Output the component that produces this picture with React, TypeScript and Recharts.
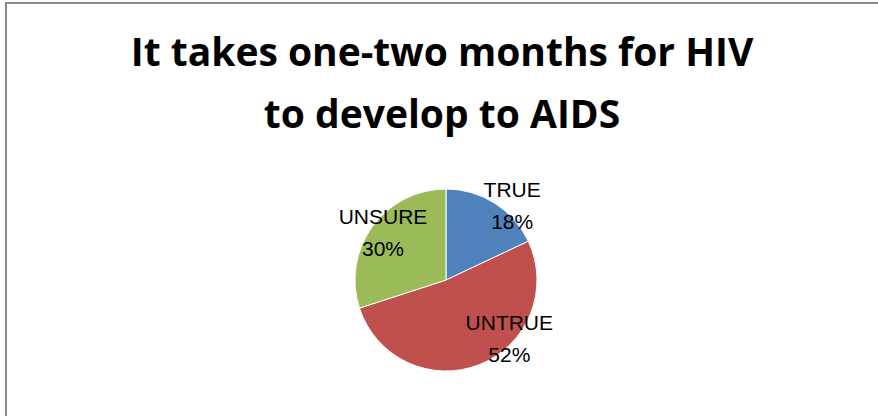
import React from 'react';
import { PieChart, Pie, Cell } from 'recharts';

// answers to the statement, percent of respondents
const answers = ['TRUE', 'UNTRUE', 'UNSURE'];
const shares = [18, 52, 30];
const colors = ['#4F81BD', '#C0504D', '#9BBB59'];

// where each label sits: angle shift from slice middle (deg), distance as fraction of radius
const labelShift = [-9, 25.8, -1.3];
const labelDist = [1.1, 0.945, 0.87];

const titleLines = ['It takes one-two months for HIV', 'to develop to AIDS'];

const data = answers.map((name, i) => ({ name, value: shares[i] }));

const RAD = Math.PI / 180;

const renderLabel = (props: any) => {
  const { cx, cy, midAngle, outerRadius, index, name, percent } = props;
  const a = (midAngle + labelShift[index]) * RAD;
  const r = outerRadius * labelDist[index];
  const x = cx + r * Math.cos(a);
  const y = cy - r * Math.sin(a);
  return (
    <text
      x={x}
      y={y}
      textAnchor="middle"
      fill="#000"
      fontFamily="'Liberation Sans', Arial, sans-serif"
      fontSize={21}
    >
      <tspan x={x} y={y - 8}>{name}</tspan>
      <tspan x={x} y={y + 24}>{`${Math.round(percent * 100)}%`}</tspan>
    </text>
  );
};

const App: React.FC = () => {
  return (
    <div style={{ position: 'fixed', left: 0, top: 0, width: 878, height: 416, background: '#fff', overflow: 'hidden' }}>
      {/* chart frame */}
      <div
        style={{
          position: 'absolute',
          left: 5,
          top: 2,
          width: 900,
          height: 500,
          borderLeft: '2px solid #8a8a8a',
          borderTop: '2px solid #8a8a8a',
        }}
      />
      <div
        style={{
          position: 'absolute',
          left: 0,
          top: 20,
          width: 884,
          textAlign: 'center',
          fontFamily: "'Open Sans', sans-serif",
          fontWeight: 700,
          fontSize: 39,
          lineHeight: '62px',
          color: '#000',
        }}
      >
        {titleLines.map((t) => (
          <div key={t}>{t}</div>
        ))}
      </div>
      <div style={{ position: 'absolute', left: 0, top: 0 }}>
        <PieChart width={878} height={416} margin={{ top: 0, right: 0, bottom: 0, left: 0 }}>
          <Pie
            data={data}
            dataKey="value"
            nameKey="name"
            cx={446}
            cy={280}
            outerRadius={91}
            startAngle={90}
            endAngle={-270}
            stroke="#fff"
            strokeWidth={1}
            label={renderLabel}
            labelLine={false}
            isAnimationActive={false}
          >
            {data.map((d, i) => (
              <Cell key={d.name} fill={colors[i]} />
            ))}
          </Pie>
        </PieChart>
      </div>
    </div>
  );
};

export default App;
